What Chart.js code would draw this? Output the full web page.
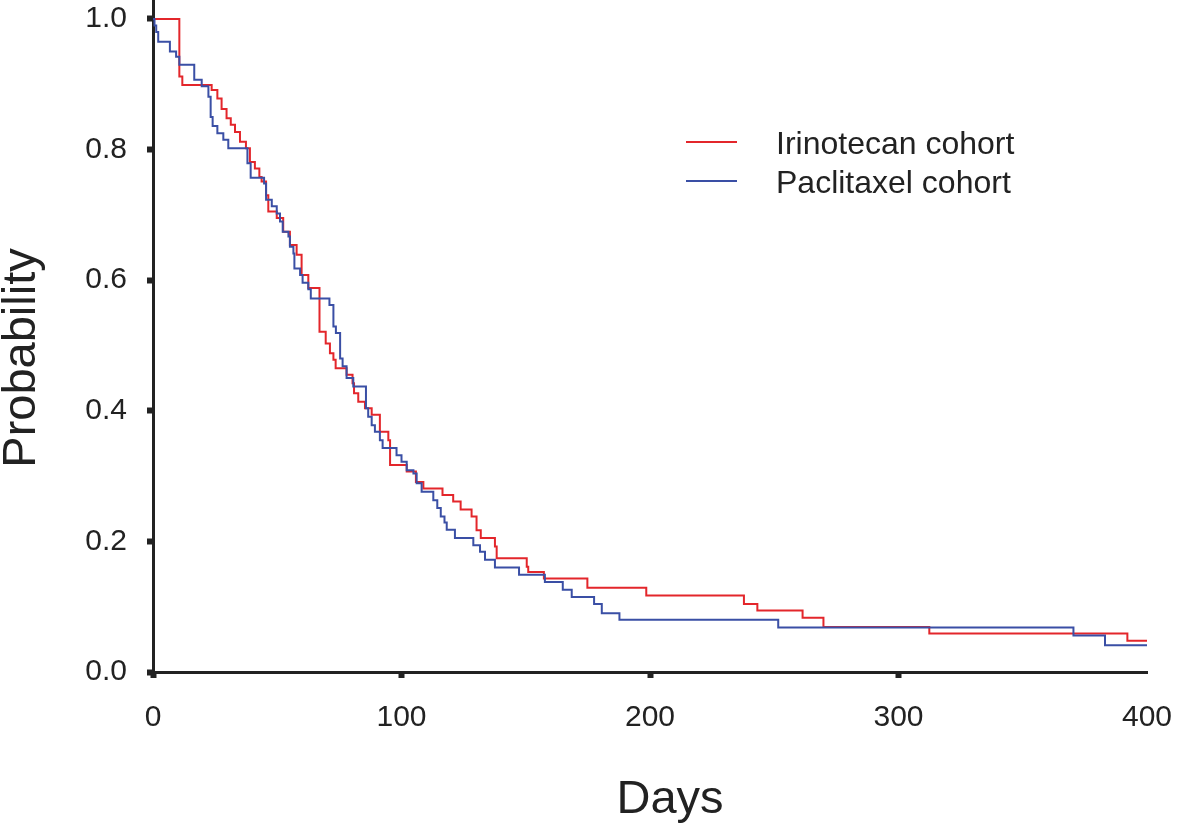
<!DOCTYPE html>
<html>
<head>
<meta charset="utf-8">
<script src="https://cdn.jsdelivr.net/npm/chart.js@4.4.1/dist/chart.umd.min.js"></script>
<style>
  html, body { margin: 0; padding: 0; background: #fff; }
  #wrap { width: 1181px; height: 823px; }
</style>
</head>
<body>
<div id="wrap"><canvas id="km" width="1181" height="823"></canvas></div>
<script>
// Kaplan-Meier steps: at each day the curve drops to the matching probability
const irinoDays = [0, 10.6, 11.8, 23.6, 25.9, 27.6, 29.6, 31.3, 33, 35, 37.4, 39, 41, 42.8, 43.7, 45.5, 46.4, 49.8, 52.4, 55.1, 57.8, 59.8, 62.5, 67, 69.5, 71.2, 72.6, 73.5, 77.9, 80.3, 80.9, 82.6, 85.3, 88, 91.3, 94.7, 95.4, 102.1, 105.8, 108.8, 116.5, 120.8, 123.8, 128.2, 130.2, 131.9, 137.6, 138.3, 150.4, 151, 157.3, 174.8, 198.5, 237.8, 243.2, 261.4, 269.8, 312.4, 392.1, 400];
const irinoProb = [1.0, 0.912, 0.899, 0.891, 0.878, 0.862, 0.848, 0.838, 0.827, 0.812, 0.802, 0.781, 0.771, 0.758, 0.751, 0.73, 0.705, 0.695, 0.674, 0.654, 0.639, 0.608, 0.588, 0.521, 0.503, 0.488, 0.478, 0.465, 0.455, 0.442, 0.427, 0.414, 0.404, 0.394, 0.368, 0.355, 0.317, 0.307, 0.291, 0.281, 0.271, 0.261, 0.249, 0.238, 0.217, 0.205, 0.192, 0.174, 0.161, 0.153, 0.143, 0.129, 0.117, 0.104, 0.094, 0.083, 0.069, 0.059, 0.048, 0.048];

const paclDays = [0, 0.6, 1.3, 2.1, 6.8, 9.3, 10.6, 16.6, 19.6, 22.3, 23.2, 24, 25.9, 28.3, 30.3, 38, 39.3, 44.7, 45.5, 47.8, 49.8, 51.1, 52.2, 54.5, 55.1, 56.5, 56.9, 59.2, 60.2, 62.5, 63.5, 71, 72.6, 73.6, 75.3, 76.3, 77.9, 80.6, 85.7, 86.6, 88, 89.3, 91.3, 92.4, 98, 100, 102.1, 104.8, 106.1, 108.1, 112.8, 114.4, 115.8, 117.3, 118.2, 121.5, 128.9, 131.6, 133.6, 137.6, 147.3, 157.7, 164.9, 168.5, 177.5, 180.6, 187.7, 251.6, 370.4, 383.1, 400];
const paclProb = [1.0, 0.99, 0.98, 0.965, 0.95, 0.942, 0.93, 0.907, 0.897, 0.881, 0.85, 0.836, 0.825, 0.815, 0.802, 0.779, 0.757, 0.748, 0.723, 0.713, 0.702, 0.69, 0.674, 0.667, 0.651, 0.641, 0.618, 0.608, 0.596, 0.586, 0.572, 0.562, 0.529, 0.519, 0.48, 0.468, 0.45, 0.437, 0.404, 0.391, 0.378, 0.368, 0.355, 0.343, 0.332, 0.322, 0.309, 0.304, 0.289, 0.276, 0.263, 0.251, 0.238, 0.229, 0.218, 0.205, 0.194, 0.184, 0.172, 0.16, 0.149, 0.138, 0.126, 0.115, 0.104, 0.09, 0.08, 0.068, 0.056, 0.041, 0.041];

const seriesNames = ["Irinotecan cohort", "Paclitaxel cohort"];
const xTicks = [0, 100, 200, 300, 400];
const yTicks = [0, 0.2, 0.4, 0.6, 0.8, 1.0];
const xTitle = "Days";
const yTitle = "Probability";

const RED = "#e3262b";
const BLUE = "#3a4fa5";
const INK = "#222";
const FONT = "'Liberation Sans', Arial, Helvetica, sans-serif";

const toPoints = (days, probs) => days.map((d, i) => ({ x: d, y: probs[i] }));

// axis titles and the legend sit at fixed spots, so draw them by hand
const decorations = {
  id: "decorations",
  afterDraw(chart) {
    const ctx = chart.ctx;
    ctx.save();
    ctx.fillStyle = INK;
    ctx.font = `47px ${FONT}`;
    ctx.textAlign = "center";
    ctx.textBaseline = "alphabetic";
    ctx.fillText(xTitle, 670, 813);
    ctx.translate(35, 358);
    ctx.rotate(-Math.PI / 2);
    ctx.fillText(yTitle, 0, 0);
    ctx.restore();

    ctx.save();
    ctx.font = `32px ${FONT}`;
    ctx.textAlign = "left";
    ctx.textBaseline = "alphabetic";
    chart.data.datasets.forEach((ds, i) => {
      const y = 142 + i * 39;
      ctx.strokeStyle = ds.borderColor;
      ctx.lineWidth = 2;
      ctx.beginPath();
      ctx.moveTo(686, y);
      ctx.lineTo(737, y);
      ctx.stroke();
      ctx.fillStyle = INK;
      ctx.fillText(ds.label, 776, y + 11.5);
    });
    ctx.restore();
  },
};

new Chart(document.getElementById("km"), {
  type: "line",
  data: {
    datasets: [
      { label: seriesNames[0], data: toPoints(irinoDays, irinoProb), borderColor: RED, order: 1 },
      { label: seriesNames[1], data: toPoints(paclDays, paclProb), borderColor: BLUE, order: 0 },
    ],
  },
  options: {
    responsive: false,
    animation: false,
    events: [],
    layout: { padding: { top: 0, right: 34, bottom: 0, left: 0 } },
    elements: {
      line: { stepped: true, borderWidth: 2, tension: 0, fill: false },
      point: { radius: 0 },
    },
    plugins: { legend: { display: false }, tooltip: { enabled: false } },
    scales: {
      x: {
        type: "linear",
        min: 0,
        max: 400,
        afterBuildTicks: (s) => { s.ticks = xTicks.map((v) => ({ value: v })); },
        afterFit: (s) => { s.height = 151; s.paddingLeft = 0; s.paddingRight = 0; },
        border: { display: true, color: INK, width: 3 },
        grid: {
          drawOnChartArea: false,
          drawTicks: true,
          tickLength: 6,
          tickWidth: 6,
          tickColor: (c) => (c.tick && c.tick.value === 400 ? "rgba(0,0,0,0)" : INK),
        },
        ticks: { color: INK, font: { family: FONT, size: 30 }, padding: 22, maxRotation: 0 },
      },
      y: {
        type: "linear",
        min: 0,
        max: 1.029,
        afterBuildTicks: (s) => { s.ticks = yTicks.map((v) => ({ value: v })); },
        afterFit: (s) => { s.width = 153; s.paddingTop = 0; s.paddingBottom = 0; },
        border: { display: true, color: INK, width: 3 },
        grid: { drawOnChartArea: false, drawTicks: true, tickLength: 6, tickWidth: 6, tickColor: INK },
        ticks: { color: INK, font: { family: FONT, size: 30 }, padding: 20, callback: (v) => v.toFixed(1) },
      },
    },
  },
  plugins: [decorations],
});
</script>
</body>
</html>
